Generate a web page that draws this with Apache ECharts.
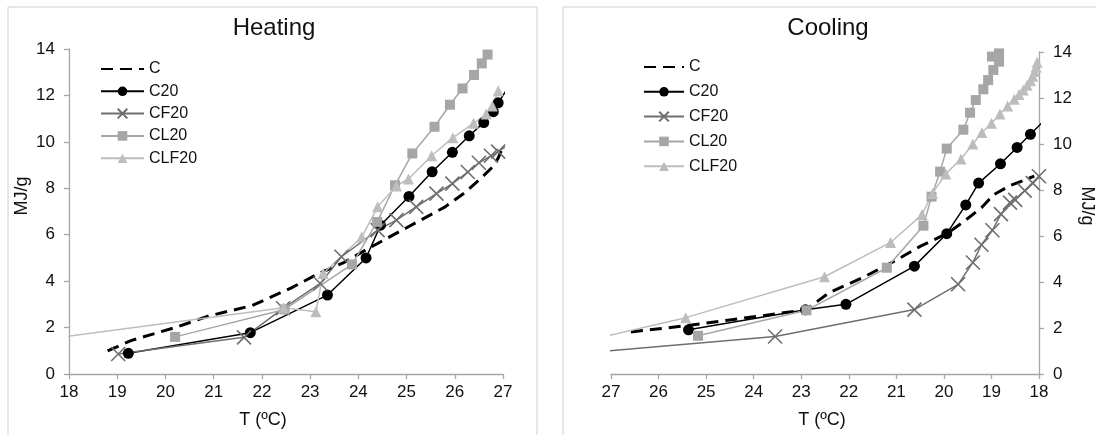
<!DOCTYPE html>
<html><head><meta charset="utf-8">
<script src="https://cdn.jsdelivr.net/npm/echarts@6/dist/echarts.min.js"></script>
<style>html,body{margin:0;padding:0;background:#fff}#c{width:1096px;height:435px}</style>
</head><body><div id="c"></div>
<script>
// ---- data (T in ºC, energy in MJ/g) ----
const seriesNames = ['C', 'C20', 'CF20', 'CL20', 'CLF20'];
const xTicks = [18, 19, 20, 21, 22, 23, 24, 25, 26, 27];
const yTicks = [0, 2, 4, 6, 8, 10, 12, 14];

// Heating
const heatC = [[18.8,1.0],[19.3,1.45],[20.2,2.0],[20.9,2.5],[21.8,2.95],[22.6,3.7],[23.2,4.35],[23.7,4.8],[24.2,5.4],[25.0,6.3],[25.8,7.2],[26.2,7.8],[26.5,8.35],[26.8,8.95],[26.9,9.3],[27.0,9.8]];
const heatC20 = [[19.23,0.89],[21.76,1.78],[23.36,3.4],[24.16,5.0],[24.46,6.41],[25.05,7.65],[25.53,8.71],[25.95,9.55],[26.3,10.26],[26.6,10.83],[26.8,11.3],[26.9,11.68],[27.1,12.32]];
const heatCF20 = [[19.02,0.86],[21.63,1.58],[22.44,2.83],[23.21,3.9],[23.65,5.05],[24.4,6.2],[24.79,6.63],[25.2,7.2],[25.62,7.77],[25.95,8.2],[26.27,8.7],[26.5,9.1],[26.75,9.4],[26.9,9.58],[27.1,9.85]];
const heatCL20 = [[20.2,1.6],[22.47,2.78],[23.87,4.72],[24.39,6.55],[24.76,8.13],[25.12,9.5],[25.58,10.65],[25.9,11.6],[26.16,12.3],[26.4,12.88],[26.56,13.38],[26.68,13.76]];
const heatCLF20 = [[17.5,1.5],[22.45,2.85],[23.12,2.68],[23.27,4.33],[24.07,5.9],[24.4,7.2],[24.79,8.1],[25.04,8.4],[25.52,9.4],[25.96,10.18],[26.39,10.8],[26.65,11.2],[26.78,11.55],[26.9,12.2]];

// Cooling
const coolC = [[26.58,1.83],[25.5,2.08],[24.5,2.35],[23.5,2.62],[22.9,2.8],[22.4,3.55],[21.7,4.2],[21.0,4.95],[20.5,5.55],[19.94,6.1],[19.6,6.6],[19.2,7.25],[18.95,7.8],[18.6,8.2],[18.1,8.6]];
const coolC20 = [[25.37,1.92],[22.91,2.79],[22.06,3.03],[20.62,4.69],[19.94,6.1],[19.54,7.35],[19.27,8.3],[18.81,9.14],[18.46,9.85],[18.18,10.42],[17.9,11.0]];
const coolCF20 = [[27.3,0.96],[23.55,1.63],[20.62,2.8],[19.7,3.9],[19.39,4.85],[19.21,5.62],[18.98,6.25],[18.8,6.95],[18.61,7.45],[18.5,7.57],[18.3,7.97],[18.13,8.3],[18.0,8.6]];
const coolCL20 = [[25.17,1.66],[22.89,2.77],[21.2,4.62],[20.43,6.45],[20.26,7.71],[20.08,8.8],[19.94,9.8],[19.59,10.62],[19.45,11.36],[19.33,11.91],[19.17,12.38],[19.07,12.78],[18.96,13.22],[18.84,13.58],[18.84,13.94],[18.99,13.8]];
const coolCLF20 = [[27.3,1.55],[25.43,2.45],[22.51,4.23],[21.12,5.72],[20.46,6.93],[20.24,7.85],[19.96,8.7],[19.64,9.35],[19.39,10.0],[19.2,10.5],[19.0,10.9],[18.82,11.3],[18.66,11.65],[18.52,11.95],[18.42,12.15],[18.33,12.35],[18.25,12.55],[18.18,12.75],[18.13,12.95],[18.09,13.15],[18.06,13.35],[18.04,13.55]];

const FONT = 'Liberation Sans, Arial, sans-serif';
const AX = '#a6a6a6';
const styles = {
  'C':    {color:'#000000', lineStyle:{color:'#000', width:3, type:[12,7]}, symbol:'none'},
  'C20':  {color:'#000000', lineStyle:{color:'#000', width:1.5}, symbol:'circle', symbolSize:11},
  'CF20': {color:'#6e6e6e', lineStyle:{color:'#6e6e6e', width:1.5}, symbol:'path://M0 0L10 10M10 0L0 10', symbolSize:14,
           itemStyle:{color:'none', borderColor:'#6e6e6e', borderWidth:1.6}},
  'CL20': {color:'#a6a6a6', lineStyle:{color:'#a6a6a6', width:1.5}, symbol:'rect', symbolSize:10},
  'CLF20':{color:'#bdbdbd', lineStyle:{color:'#bdbdbd', width:1.5}, symbol:'triangle', symbolSize:11}
};
function mk(name, data, idx){
  const s = styles[name];
  return {
    name, type:'line', data, xAxisIndex:idx, yAxisIndex:idx, clip:true,
    symbol:s.symbol, symbolSize:s.symbolSize||6, showSymbol: s.symbol!=='none',
    lineStyle:s.lineStyle,
    itemStyle: s.itemStyle || {color:s.color},
    emphasis:{disabled:true}, z: 10 - idx
  };
}
const xAxisBase = {
  type:'value', min:xTicks[0], max:xTicks[xTicks.length-1], interval:1,
  axisLine:{show:true, onZero:false, lineStyle:{color:AX, width:1.3}},
  axisTick:{show:true, length:5, lineStyle:{color:AX, width:1.3}},
  axisLabel:{color:'#111', fontSize:17, fontFamily:FONT, margin:10},
  splitLine:{show:false}
};
const yAxisBase = {
  type:'value', min:yTicks[0], max:yTicks[yTicks.length-1], interval:2,
  axisLine:{show:true, lineStyle:{color:AX, width:1.3}},
  axisTick:{show:true, length:5, lineStyle:{color:AX, width:1.3}},
  axisLabel:{color:'#111', fontSize:17, fontFamily:FONT, margin:14},
  splitLine:{show:false}
};
const legendData = seriesNames.map(n => n==='C' ? {name:n, itemStyle:{opacity:0}} : {name:n});
const chart = echarts.init(document.getElementById('c'), null, {renderer:'canvas'});
chart.setOption({
  animation:false,
  backgroundColor:'#fff',
  title:[
    {text:'Heating', left:269, top:11, textAlign:'center', textStyle:{fontSize:24, fontWeight:'normal', color:'#111', fontFamily:FONT}},
    {text:'Cooling', left:823, top:11, textAlign:'center', textStyle:{fontSize:24, fontWeight:'normal', color:'#111', fontFamily:FONT}}
  ],
  graphic:[
    {type:'rect', shape:{x:8, y:7, width:529, height:440}, style:{fill:'none', stroke:'#d0d0d0', lineWidth:1}, z:-1},
    {type:'rect', shape:{x:563, y:7, width:540, height:440}, style:{fill:'none', stroke:'#d0d0d0', lineWidth:1}, z:-1},
    {type:'text', x:263, y:420, style:{text:'T (ºC)', fontSize:18, fontFamily:FONT, fill:'#111', textAlign:'center', textVerticalAlign:'middle'}},
    {type:'text', x:822, y:420, style:{text:'T (ºC)', fontSize:18, fontFamily:FONT, fill:'#111', textAlign:'center', textVerticalAlign:'middle'}},
    {type:'text', x:22, y:196, rotation:Math.PI/2, style:{text:'MJ/g', fontSize:18, fontFamily:FONT, fill:'#111', textAlign:'center', textVerticalAlign:'middle'}},
    {type:'text', x:1087, y:206, rotation:-Math.PI/2, style:{text:'MJ/g', fontSize:18, fontFamily:FONT, fill:'#111', textAlign:'center', textVerticalAlign:'middle'}}
  ],
  legend:[
    {left:100, top:61, padding:0, orient:'vertical', itemWidth:43, itemHeight:12, itemGap:6.3, data:legendData,
     textStyle:{fontSize:16, fontFamily:FONT, color:'#111'}, selectedMode:false},
    {left:643, top:59, padding:0, orient:'vertical', itemWidth:40, itemHeight:12, itemGap:8.8, data:legendData,
     textStyle:{fontSize:16, fontFamily:FONT, color:'#111'}, selectedMode:false}
  ],
  grid:[
    {left:69, right:593, top:49, bottom:61},
    {left:611, right:57, top:52, bottom:61}
  ],
  xAxis:[
    Object.assign({gridIndex:0}, xAxisBase),
    Object.assign({gridIndex:1, inverse:true}, xAxisBase)
  ],
  yAxis:[
    Object.assign({gridIndex:0, position:'left'}, yAxisBase),
    Object.assign({gridIndex:1, position:'right'}, yAxisBase)
  ],
  series:[
    mk('C', heatC, 0), mk('C20', heatC20, 0), mk('CF20', heatCF20, 0), mk('CL20', heatCL20, 0), mk('CLF20', heatCLF20, 0),
    mk('C', coolC, 1), mk('C20', coolC20, 1), mk('CF20', coolCF20, 1), mk('CL20', coolCL20, 1), mk('CLF20', coolCLF20, 1)
  ]
});
</script>
</body></html>
